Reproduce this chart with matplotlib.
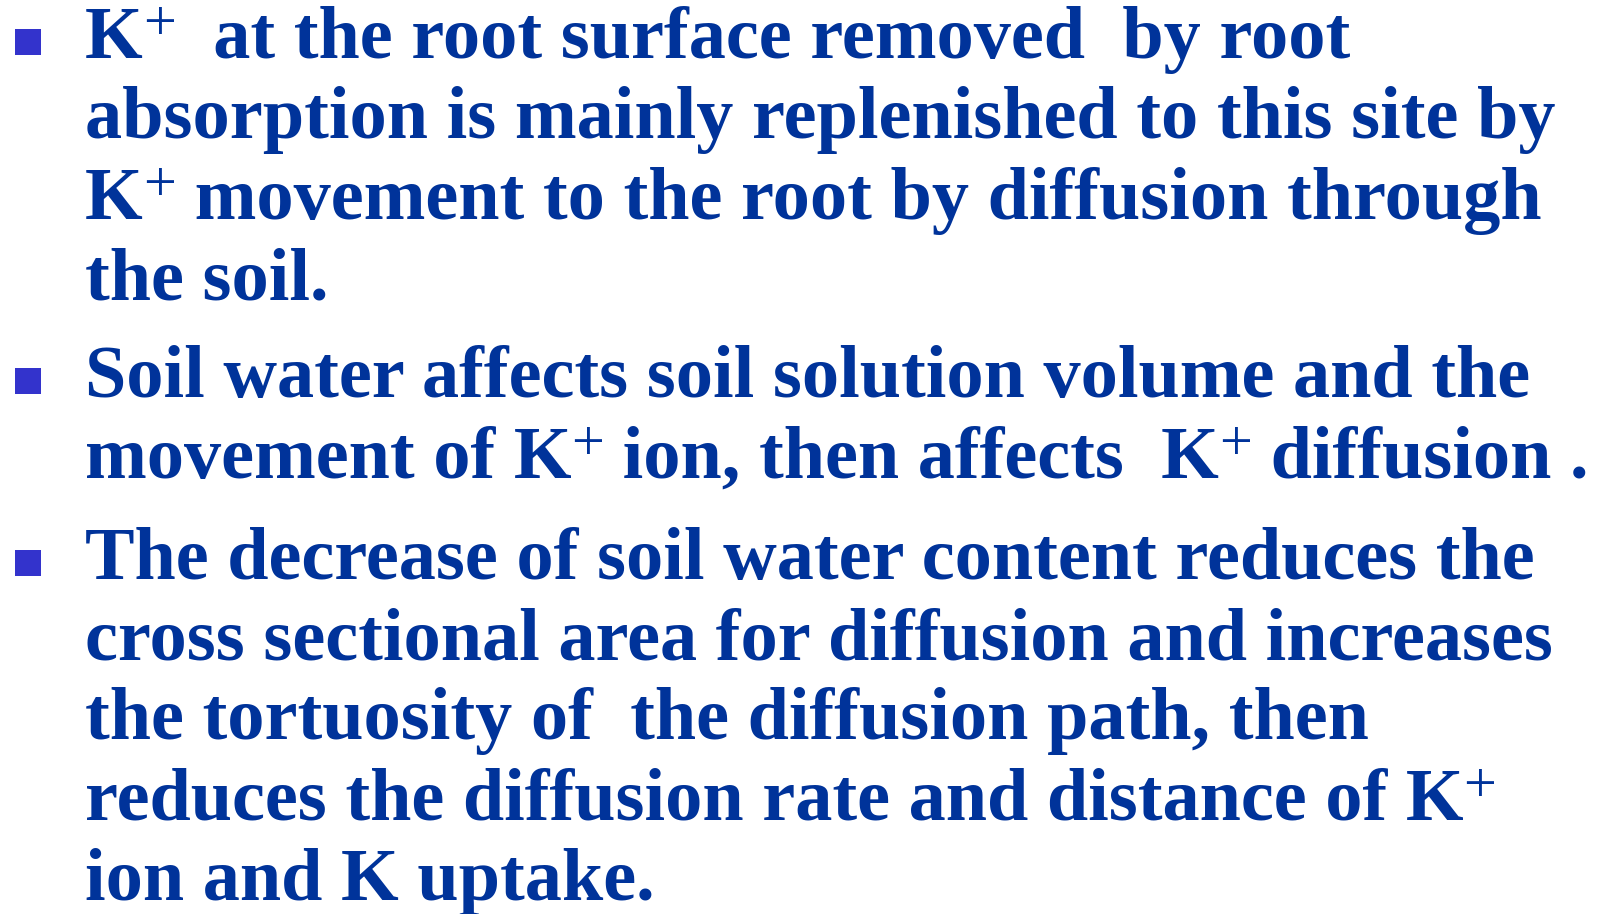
import matplotlib
matplotlib.use("Agg")
import matplotlib.pyplot as plt
from matplotlib.patches import Rectangle

# Slide content: each line is a list of (text, superscript) segments
paragraphs = [
    [
        [("K", False), ("+", True), ("  at the root surface removed  by root", False)],
        [("absorption is mainly replenished to this site by", False)],
        [("K", False), ("+", True), (" movement to the root by diffusion through", False)],
        [("the soil.", False)],
    ],
    [
        [("Soil water affects soil solution volume and the", False)],
        [("movement of K", False), ("+", True), (" ion, then affects  K", False), ("+", True), (" diffusion .", False)],
    ],
    [
        [("The decrease of soil water content reduces the", False)],
        [("cross sectional area for diffusion and increases", False)],
        [("the tortuosity of  the diffusion path, then", False)],
        [("reduces the diffusion rate and distance of K", False), ("+", True)],
        [("ion and K uptake.", False)],
    ],
]
baselines = [
    [58, 138, 219, 300],
    [397, 478],
    [579, 659, 739, 820, 900],
]

text_color = "#00339A"
bullet_color = "#3333CC"
font_family = "Liberation Serif"
font_size = 53.5
sup_size = 42
text_left = 85

W, H = 1605, 914
fig = plt.figure(figsize=(W / 100, H / 100), dpi=100)
ax = fig.add_axes([0, 0, 1, 1])
ax.set_xlim(0, W)
ax.set_ylim(H, 0)
ax.axis("off")
renderer = fig.canvas.get_renderer()


def text_width(s, size, weight):
    # measure with bars around the string so spaces are counted
    t1 = ax.text(0, 0, "|" + s + "|", fontsize=size, family=font_family, weight=weight)
    t2 = ax.text(0, 0, "||", fontsize=size, family=font_family, weight=weight)
    w = t1.get_window_extent(renderer).width - t2.get_window_extent(renderer).width
    t1.remove()
    t2.remove()
    return w


for para, ys in zip(paragraphs, baselines):
    # square bullet next to the first line of each paragraph
    ax.add_patch(Rectangle((15, ys[0] - 29), 26, 26, color=bullet_color, lw=0))
    for line, y in zip(para, ys):
        x = text_left
        for seg, sup in line:
            size = sup_size if sup else font_size
            weight = "normal" if sup else "bold"
            dy = -18 if sup else 0
            ax.text(x, y + dy, seg, fontsize=size, family=font_family, weight=weight,
                    color=text_color, va="baseline", ha="left")
            x += text_width(seg, size, weight)

fig.savefig("out.png", dpi=100)
